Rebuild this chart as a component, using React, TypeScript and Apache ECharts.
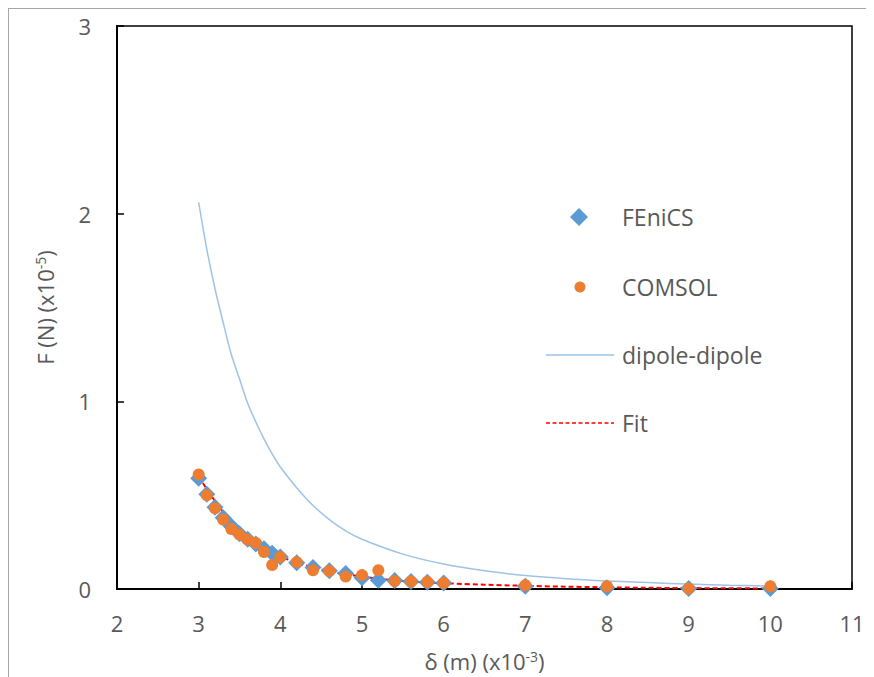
import React, { useEffect, useRef } from "react";
import * as echarts from "echarts";

// δ positions (x10^-3 m)
const feX = [3.0, 3.1, 3.2, 3.3, 3.4, 3.5, 3.6, 3.7, 3.8, 3.9, 4.0, 4.2, 4.4, 4.6, 4.8, 5.0, 5.2, 5.4, 5.6, 5.8, 6.0, 7, 8, 9, 10];
// FEniCS force (x10^-5 N)
const feY = [0.59, 0.505, 0.435, 0.38, 0.335, 0.295, 0.265, 0.24, 0.215, 0.19, 0.17, 0.14, 0.115, 0.097, 0.082, 0.06, 0.047, 0.045, 0.04, 0.036, 0.032, 0.015, 0.006, 0.003, 0.003];

const coX = [3.0, 3.1, 3.2, 3.3, 3.4, 3.5, 3.6, 3.7, 3.8, 3.9, 4.0, 4.2, 4.4, 4.6, 4.8, 5.0, 5.2, 5.4, 5.6, 5.8, 6.0, 7, 8, 9, 10];
// COMSOL force (x10^-5 N)
const coY = [0.61, 0.5, 0.43, 0.37, 0.32, 0.29, 0.263, 0.245, 0.197, 0.128, 0.17, 0.143, 0.1, 0.096, 0.066, 0.074, 0.1, 0.043, 0.04, 0.037, 0.032, 0.02, 0.015, 0.003, 0.015];

// dipole-dipole model curve
const ddX = [3.0, 3.1, 3.2, 3.3, 3.4, 3.5, 3.6, 3.7, 3.8, 3.9, 4.0, 4.2, 4.4, 4.6, 4.8, 5.0, 5.5, 6.0, 6.5, 7, 7.5, 8, 8.5, 9, 9.5, 10];
const ddY = [2.06, 1.81, 1.6, 1.42, 1.25, 1.12, 0.99, 0.89, 0.8, 0.72, 0.65, 0.54, 0.445, 0.37, 0.31, 0.265, 0.186, 0.133, 0.097, 0.072, 0.055, 0.043, 0.034, 0.026, 0.02, 0.016];

// fitted curve
const fitX = [3.0, 3.5, 4.0, 4.5, 5.0, 5.5, 6.0, 7, 8, 9, 10];
const fitY = [0.6, 0.31, 0.175, 0.105, 0.066, 0.043, 0.031, 0.017, 0.009, 0.005, 0.003];

const xTicks = { min: 2, max: 11, step: 1 };
const yTicks = { min: 0, max: 3, step: 1 };

const FONT = "Open Sans";
const GREY = "#595959";
const BLUE = "#5B9BD5";
const ORANGE = "#ED7D31";
const LIGHTBLUE = "#9DC3E6";

const pairs = (xs: number[], ys: number[]) => xs.map((x, i) => [x, ys[i]]);

export default function App() {
  const ref = useRef<HTMLDivElement>(null);

  useEffect(() => {
    if (!ref.current) return;
    const chart = echarts.init(ref.current, null, { renderer: "svg" });

    const legendX = 537; // left edge of line keys
    const legendTextX = 613;
    const rows = [208, 278, 346, 414];

    const titleRich = {
      n: { fontFamily: FONT, fontSize: 22, color: GREY },
      s: { fontFamily: FONT, fontSize: 14, color: GREY, padding: [0, 0, 10, 0] },
    };

    chart.setOption({
      animation: false,
      backgroundColor: "#ffffff",
      grid: {
        left: 108,
        right: 22,
        top: 17,
        bottom: 86.5,
        show: true,
        borderColor: "#000000",
        borderWidth: 1.5,
        containLabel: false,
      },
      xAxis: {
        type: "value",
        min: xTicks.min,
        max: xTicks.max,
        interval: xTicks.step,
        name: "{n|δ (m) (x10}{s|-3}{n|)}",
        nameLocation: "middle",
        nameGap: 60,
        nameTextStyle: { rich: titleRich },
        axisLine: { show: true, onZero: false, lineStyle: { color: "#000000", width: 2 } },
        axisTick: { show: true, inside: true, length: 7, lineStyle: { color: "#000000", width: 1.5 } },
        axisLabel: { margin: 23, fontFamily: FONT, fontSize: 22, color: GREY },
        splitLine: { show: false },
      },
      yAxis: {
        type: "value",
        min: yTicks.min,
        max: yTicks.max,
        interval: yTicks.step,
        name: "{n|F (N) (x10}{s|-5}{n|)}",
        nameLocation: "middle",
        nameGap: 60,
        nameTextStyle: { rich: titleRich },
        axisLine: { show: true, lineStyle: { color: "#000000", width: 2 } },
        axisTick: { show: true, inside: true, length: 7, lineStyle: { color: "#000000", width: 1.5 } },
        axisLabel: { margin: 26, fontFamily: FONT, fontSize: 22, color: GREY },
        splitLine: { show: false },
      },
      series: [
        {
          name: "dipole-dipole",
          type: "line",
          data: pairs(ddX, ddY),
          smooth: 0.3,
          showSymbol: false,
          lineStyle: { color: LIGHTBLUE, width: 1.5 },
          z: 1,
        },
        {
          name: "Fit",
          type: "line",
          data: pairs(fitX, fitY),
          smooth: 0.4,
          showSymbol: false,
          lineStyle: { color: "#FF0000", width: 2, type: [5, 3] },
          z: 2,
        },
        {
          name: "FEniCS",
          type: "scatter",
          data: pairs(feX, feY),
          symbol: "diamond",
          symbolSize: 17,
          itemStyle: { color: BLUE, opacity: 1 },
          z: 3,
        },
        {
          name: "COMSOL",
          type: "scatter",
          data: pairs(coX, coY),
          symbol: "circle",
          symbolSize: 12,
          itemStyle: { color: ORANGE, opacity: 1 },
          z: 4,
        },
      ],
      graphic: [
        {
          type: "polygon",
          shape: {
            points: [
              [561, rows[0]],
              [570, rows[0] - 9],
              [579, rows[0]],
              [570, rows[0] + 9],
            ],
          },
          style: { fill: BLUE },
        },
        {
          type: "circle",
          shape: { cx: 571, cy: rows[1], r: 5.5 },
          style: { fill: ORANGE },
        },
        {
          type: "line",
          shape: { x1: legendX, y1: rows[2], x2: legendX + 68, y2: rows[2] },
          style: { stroke: LIGHTBLUE, lineWidth: 1.5 },
        },
        {
          type: "line",
          shape: { x1: legendX, y1: rows[3], x2: legendX + 68, y2: rows[3] },
          style: { stroke: "#FF0000", lineWidth: 1.5, lineDash: [4, 2.5] },
        },
        ...["FEniCS", "COMSOL", "dipole-dipole", "Fit"].map((label, i) => ({
          type: "text",
          x: legendTextX,
          y: rows[i],
          style: {
            text: label,
            fontFamily: FONT,
            fontSize: 23,
            fill: GREY,
            textVerticalAlign: "middle",
            verticalAlign: "middle",
          },
        })),
      ],
    });

    return () => chart.dispose();
  }, []);

  return (
    <div
      ref={ref}
      style={{
        width: 866,
        height: 669,
        boxSizing: "border-box",
        borderLeft: "1px solid #a6a6a6",
        borderTop: "1px solid #a6a6a6",
      }}
    />
  );
}
